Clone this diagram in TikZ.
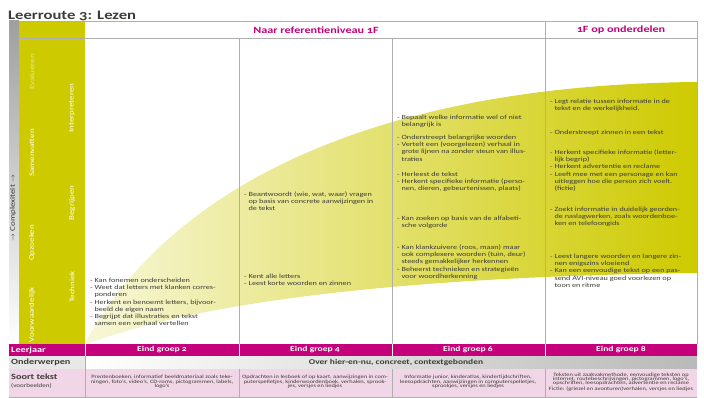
\documentclass[tikz,border=0pt]{standalone}
\usepackage{fontspec}
\setmainfont{Carlito}[Numbers=OldStyle, FakeStretch=1.28]

\definecolor{lzyellow}{RGB}{206,202,0}
\definecolor{lzmagenta}{RGB}{196,0,122}
\definecolor{lzpink}{RGB}{240,214,230}
\definecolor{lzline}{RGB}{175,175,175}
\definecolor{lztext}{RGB}{60,60,55}

\tikzset{
  lzbody/.style={anchor=north west, inner sep=0pt, align=left, text=lztext, font=\fontsize{6.4}{7.3}\selectfont},
  lzside/.style={rotate=90, inner sep=0pt, text=white, font=\fontsize{7}{8}\selectfont},
  lzhead/.style={inner sep=0pt, text=lzmagenta, font=\fontsize{9.5}{11}\selectfont\bfseries},
  lzyear/.style={inner sep=0pt, text=white, font=\fontsize{7.5}{9}\selectfont\bfseries},
  lzsmall/.style={inner sep=0pt, align=center, text=lztext, font=\fontsize{5}{4.4}\selectfont},
}
\newcommand{\lzind}{\hphantom{-\ }}

\begin{document}
\begin{tikzpicture}[x=1pt, y=-1pt, line join=round, line cap=round]
    \useasboundingbox (0,0) rectangle (704,398);

    % titel
    \node[anchor=base west, inner sep=0pt, text=lztext, font=\fontsize{13}{15}\selectfont\bfseries] (title) at (8,19.5) {Leerroute 3: Lezen};

    % linker kolom
    \shade[top color=gray!75, bottom color=white] (9,21) rectangle (19,344);
    \fill[lzyellow] (19,21) rectangle (85,344);

    % gele band
    \shade[left color=lzyellow!15, right color=lzyellow]
        (85,343) .. controls (165,195) and (360,85) .. (697,82)
        -- (697,273) .. controls (420,276) and (200,300) .. (85,345) -- cycle;

    % raster
    \draw[lzline] (19,21) -- (697,21) -- (697,344);
    \draw[lzline] (19,38) -- (697,38);
    \foreach \x in {239,392} {
        \draw[lzline] (\x,38) -- (\x,344);
    }
    \draw[lzline] (545,21) -- (545,344);

    % koppen
    \node[lzhead] (naar) at (316,30) {Naar referentieniveau 1F};
    \node[lzhead] (onderdelen) at (621,30) {1F op onderdelen};

    % labels in de gele kolom
    \node[lzside, text=white!55!lzyellow] (side-Evalueren) at (32,72) {Evalueren};
    \foreach \x/\y/\lab in {32/153/Samenvatten, 32/243/Opzoeken, 32/315/Voorwaardelijk,
                            72/108/Interpreteren, 72/203/Begrijpen, 72/287/Techniek} {
        \node[lzside] (side-\lab) at (\x,\y) {\lab};
    }
    \node[lzside, text=black!80, font=\fontsize{7}{8}\selectfont] (complex) at (13,208) {$\rightarrow$ Complexiteit $\rightarrow$};

    % groep 2
    \node[lzbody] (g2a) at (90,277.5) {- Kan fonemen onderscheiden\\
        - Weet dat letters met klanken corres-\\ \lzind ponderen\\
        - Herkent en benoemt letters, bijvoor-\\ \lzind beeld de eigen naam\\
        - Begrijpt dat illustraties en tekst\\ \lzind samen een verhaal vertellen};

    % groep 4
    \node[lzbody] (g4a) at (244,191.5) {- Beantwoordt (wie, wat, waar) vragen\\
        \lzind op basis van concrete aanwijzingen in\\ \lzind de tekst};
    \node[lzbody] (g4b) at (244,273.5) {- Kent alle letters\\ - Leest korte woorden en zinnen};

    % groep 6
    \node[lzbody] (g6a) at (397,114.5) {- Bepaalt welke informatie wel of niet\\ \lzind belangrijk is};
    \node[lzbody] (g6b) at (397,134.5) {- Onderstreept belangrijke woorden\\
        - Vertelt een (voorgelezen) verhaal in\\ \lzind grote lijnen na zonder steun van illus-\\ \lzind traties};
    \node[lzbody] (g6c) at (397,171.5) {- Herleest de tekst\\
        - Herkent specifieke informatie (perso-\\ \lzind nen, dieren, gebeurtenissen, plaats)};
    \node[lzbody] (g6d) at (397,215.5) {- Kan zoeken op basis van de alfabeti-\\ \lzind sche volgorde};
    \node[lzbody] (g6e) at (397,244.5) {- Kan klankzuivere (roos, maan) maar\\
        \lzind ook complexere woorden (tuin, deur)\\ \lzind steeds gemakkelijker herkennen\\
        - Beheerst technieken en strategieën\\ \lzind voor woordherkenning};

    % groep 8
    \node[lzbody] (g8a) at (550,98.5) {- Legt relatie tussen informatie in de\\ \lzind tekst en de werkelijkheid.};
    \node[lzbody] (g8b) at (550,129.5) {- Onderstreept zinnen in een tekst};
    \node[lzbody] (g8c) at (550,149.5) {- Herkent specifieke informatie (letter-\\ \lzind lijk begrip)\\
        - Herkent advertentie en reclame\\
        - Leeft mee met een personage en kan\\ \lzind uitleggen hoe die person zich voelt.\\ \lzind (fictie)};
    \node[lzbody] (g8d) at (550,206.5) {- Zoekt informatie in duidelijk georden-\\
        \lzind de naslagwerken, zoals woordenboe-\\ \lzind ken en telefoongids};
    \node[lzbody] (g8e) at (550,253.5) {- Leest langere woorden en langere zin-\\ \lzind nen enigszins vloeiend\\
        - Kan een eenvoudige tekst op een pas-\\ \lzind send AVI-niveau goed voorlezen op\\ \lzind toon en ritme};

    % onderste rijen
    \fill[lzmagenta] (9,344) rectangle (697,356);
    \fill[gray!18] (9,356) rectangle (85,369);
    \shade[left color=white, right color=gray!55] (85,356) rectangle (697,369);
    \fill[lzpink] (9,369) rectangle (697,397);
    \foreach \x in {85,239,392,545} {
        \draw[white, thick] (\x,344) -- (\x,356);
        \draw[lzline] (\x,369) -- (\x,397);
    }
    \draw[lzline] (85,356) -- (85,369);
    \draw[lzline] (9,397) -- (697,397);

    \node[lzyear, anchor=west, font=\fontsize{8}{9}\selectfont\bfseries] (leerjaar) at (11,350) {Leerjaar};
    \foreach \x/\g in {162/2, 315/4, 468/6, 621/8} {
        \node[lzyear] (eind\g) at (\x,350) {Eind groep \g};
    }
    \node[anchor=west, inner sep=0pt, text=lztext, font=\fontsize{8}{9}\selectfont\bfseries] (onderwerpen) at (11,362.5) {Onderwerpen};
    \node[inner sep=0pt, text=lztext, font=\fontsize{7.4}{9}\selectfont\bfseries] (hiernu) at (396,362.5) {Over hier-en-nu, concreet, contextgebonden};
    \node[anchor=north west, inner sep=0pt, align=left, text=lztext, font=\fontsize{8}{8}\selectfont\bfseries] (soort) at (11,374)
        {Soort tekst\\ {\fontsize{5.5}{8}\selectfont\mdseries (voorbeelden)}};

    \node[lzsmall] (st2) at (162,382) {Prentenboeken, informatief beeldmateriaal zoals teke-\\
        ningen, foto's, video's, CD-roms, pictogrammen, labels,\\ logo's};
    \node[lzsmall] (st4) at (315,382) {Opdrachten in lesboek of op kaart, aanwijzingen in com-\\
        puterspelletjes, kinderwoordenboek, verhalen, sprook-\\ jes, versjes en liedjes};
    \node[lzsmall] (st6) at (468,382) {Informatie junior, kinderatlas, kindertijdschriften,\\
        leesopdrachten, aanwijzingen in computerspelletjes,\\ sprookjes, versjes en liedjes};
    \node[lzsmall] (st8) at (621,382) {Teksten uit zaakvakmethode, eenvoudige teksten op\\
        internet, routebeschrijvingen, pictogrammen, logo's,\\ opschriften, leesopdrachten, advertentie en reclame\\
        Fictie: (griezel en avonturen)verhalen, versjes en liedjes};

\end{tikzpicture}
\end{document}
